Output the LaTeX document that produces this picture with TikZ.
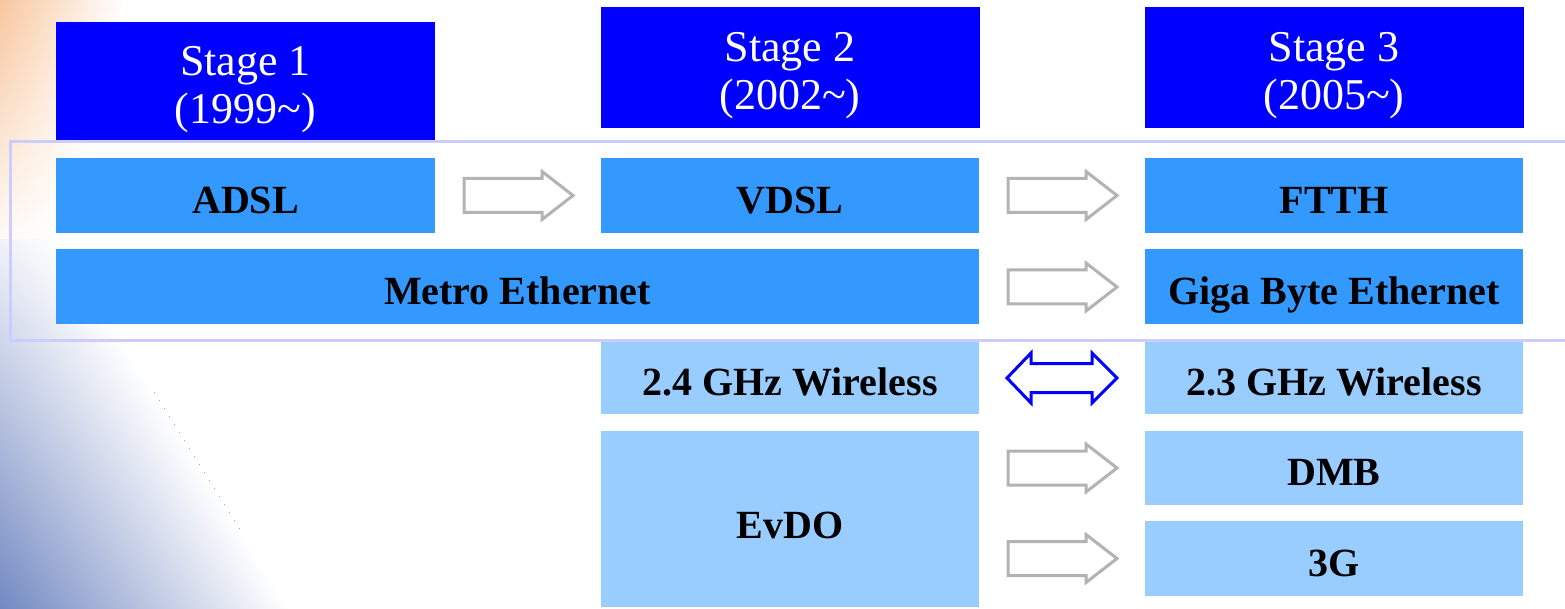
\documentclass[tikz,border=0pt]{standalone}
\usepackage{fontspec}
\setmainfont{Liberation Serif}
\usetikzlibrary{calc}
\definecolor{stageblue}{HTML}{0000FF}
\definecolor{midblue}{HTML}{3399FF}
\definecolor{lightblue}{HTML}{99CCFF}
\definecolor{framecol}{HTML}{CCCCFF}
\definecolor{arrowgray}{HTML}{B3B3B3}
\definecolor{peach}{HTML}{F8C49A}
\definecolor{dusk}{HTML}{6A82BE}
\begin{document}
\begin{tikzpicture}[x=1pt,y=-1pt,
  stagebox/.style={fill=stageblue, inner sep=0pt, minimum width=379pt, minimum height=#1},
  stagetext/.style={text=white, inner sep=0pt, align=center, font=\fontsize{44}{48}\selectfont},
  techbox/.style={fill=midblue, text=black, inner sep=0pt, minimum height=75pt, text height=37pt, text depth=0pt, font=\bfseries\fontsize{40}{44}\selectfont},
  wirebox/.style={fill=lightblue, text=black, inner sep=0pt, text height=35pt, text depth=0pt, font=\bfseries\fontsize{40}{44}\selectfont},
  grayarrow/.style={draw=arrowgray, line width=3pt, fill=white, line join=miter},
  bluearrow/.style={draw=stageblue, line width=3pt, fill=white, line join=miter}]
\useasboundingbox (0,0) rectangle (1565,609);
\fill[white] (0,0) rectangle (1565,609);
% background corner tints
\foreach \yy in {0,4,...,256}{
  \pgfmathsetmacro{\tv}{max(0,95*(1-\yy/260))}
  \pgfmathsetmacro{\wv}{125-0.25*\yy}
  \fill[left color=peach!\tv!white, right color=white] (0,\yy) rectangle (\wv,\yy+4);
}
\foreach \yy in {240,244,...,608}{
  \pgfmathsetmacro{\sv}{(\yy-240)/369}
  \pgfmathsetmacro{\tv}{10+85*\sv}
  \pgfmathsetmacro{\wv}{60+230*\sv}
  \fill[left color=dusk!\tv!white, right color=white] (0,\yy) rectangle (\wv,\yy+4);
}
% frame
\draw[framecol, line width=3pt] (10,142) rectangle (1580,340);
% stage headers
\node[stagebox=118pt] (s1) at (245.5,81) {};
\node[stagebox=121pt] (s2) at (790,67.5) {};
\node[stagebox=121pt] (s3) at (1334,67.5) {};
\node[stagetext, yshift=-9pt] (s1t) at (s1.center) {Stage 1\\(1999\textasciitilde)};
\node[stagetext, yshift=-8pt] (s2t) at (s2.center) {Stage 2\\(2002\textasciitilde)};
\node[stagetext, yshift=-8pt] (s3t) at (s3.center) {Stage 3\\(2005\textasciitilde)};
% wired rows
\node[techbox, minimum width=379pt] (adsl) at (245.5,195.5) {ADSL};
\node[techbox, minimum width=378pt] (vdsl) at (790,195.5) {VDSL};
\node[techbox, minimum width=378pt] (ftth) at (1334,195.5) {FTTH};
\node[techbox, minimum width=923pt, text height=36pt] (metro) at (517.5,287) {Metro Ethernet};
\node[techbox, minimum width=378pt, text height=36pt] (giga) at (1334,287) {Giga Byte Ethernet};
% wireless rows
\node[wirebox, minimum width=378pt, minimum height=72pt] (w24) at (790,378) {2.4 GHz Wireless};
\node[wirebox, minimum width=378pt, minimum height=72pt] (w23) at (1334,378) {2.3 GHz Wireless};
\node[wirebox, minimum width=378pt, minimum height=176pt, text height=38pt] (evdo) at (790,519) {EvDO};
\node[wirebox, minimum width=378pt, minimum height=74pt] (dmb) at (1334,468) {DMB};
\node[wirebox, minimum width=378pt, minimum height=75pt] (g3) at (1334,558.5) {3G};
% arrow anchor points
\coordinate (a1) at ($(adsl.east)!0.5!(vdsl.west)$);
\coordinate (a2) at ($(vdsl.east)!0.5!(ftth.west)$);
\coordinate (a3) at ($(metro.east)!0.5!(giga.west)$);
\coordinate (a4) at ($(w24.east)!0.5!(w23.west)$);
\coordinate (a5) at (a2 |- dmb);
\coordinate (a6) at (a2 |- g3);
% gray block arrows
\foreach \c in {a1,a2,a3,a5,a6}{
  \draw[grayarrow, shift={(\c)}] (-54,-17) -- (24,-17) -- (24,-24) -- (55,0) -- (24,24) -- (24,17) -- (-54,17) -- cycle;
}
% blue double arrow
\draw[bluearrow, shift={(a4)}] (-55,0) -- (-31,-25) -- (-31,-14.5) -- (30,-14.5) -- (30,-25) -- (55,0) -- (30,25) -- (30,14.5) -- (-31,14.5) -- (-31,25) -- cycle;
\end{tikzpicture}
\end{document}
